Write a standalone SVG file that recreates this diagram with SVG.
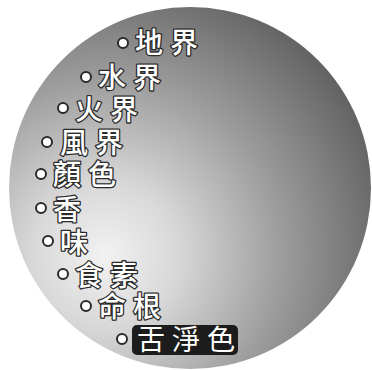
<svg xmlns="http://www.w3.org/2000/svg" width="372" height="370" viewBox="0 0 372 370">
<defs>
<radialGradient id="bg" gradientUnits="userSpaceOnUse" cx="105" cy="255" r="290">
<stop offset="0" stop-color="#f2f2f2"/>
<stop offset="0.25" stop-color="#d8d8d8"/>
<stop offset="0.6" stop-color="#9e9e9e"/>
<stop offset="1" stop-color="#626262"/>
</radialGradient>
<style>
.lbl{font-family:"Noto Sans CJK TC","Noto Sans CJK SC",sans-serif;font-size:28px;font-weight:500;letter-spacing:7px;fill:#fff;stroke:#2a2a2a;stroke-width:2.6px;paint-order:stroke;stroke-linejoin:round}
.dot{fill:#fff;stroke:#2a2a2a;stroke-width:2}
.sel{font-family:"Noto Sans CJK TC","Noto Sans CJK SC",sans-serif;font-size:28px;letter-spacing:7px;fill:#fff}
</style>
</defs>
<rect width="372" height="370" fill="#fff"/>
<circle cx="190" cy="188" r="181" fill="url(#bg)"/>
<g id="n1"><circle class="dot" cx="123" cy="43" r="5"/><text class="lbl" x="135" y="53">地界</text></g>
<g id="n2"><circle class="dot" cx="86" cy="77" r="5"/><text class="lbl" x="98" y="88">水界</text></g>
<g id="n3"><circle class="dot" cx="63" cy="108" r="5"/><text class="lbl" x="75" y="120">火界</text></g>
<g id="n4"><circle class="dot" cx="47" cy="142" r="5"/><text class="lbl" x="60" y="153">風界</text></g>
<g id="n5"><circle class="dot" cx="41" cy="174" r="5"/><text class="lbl" x="53" y="185">顏色</text></g>
<g id="n6"><circle class="dot" cx="41" cy="208" r="5"/><text class="lbl" x="53" y="220">香</text></g>
<g id="n7"><circle class="dot" cx="48" cy="241" r="5"/><text class="lbl" x="60" y="253">味</text></g>
<g id="n8"><circle class="dot" cx="63" cy="274" r="5"/><text class="lbl" x="75" y="286">食素</text></g>
<g id="n9"><circle class="dot" cx="86" cy="306" r="5"/><text class="lbl" x="98" y="317">命根</text></g>
<g id="n10"><circle class="dot" cx="122" cy="339" r="5"/><rect x="132" y="325" width="106" height="30" rx="5" fill="#1c1c1c"/><text class="sel" x="137" y="350">舌淨色</text></g>
</svg>
